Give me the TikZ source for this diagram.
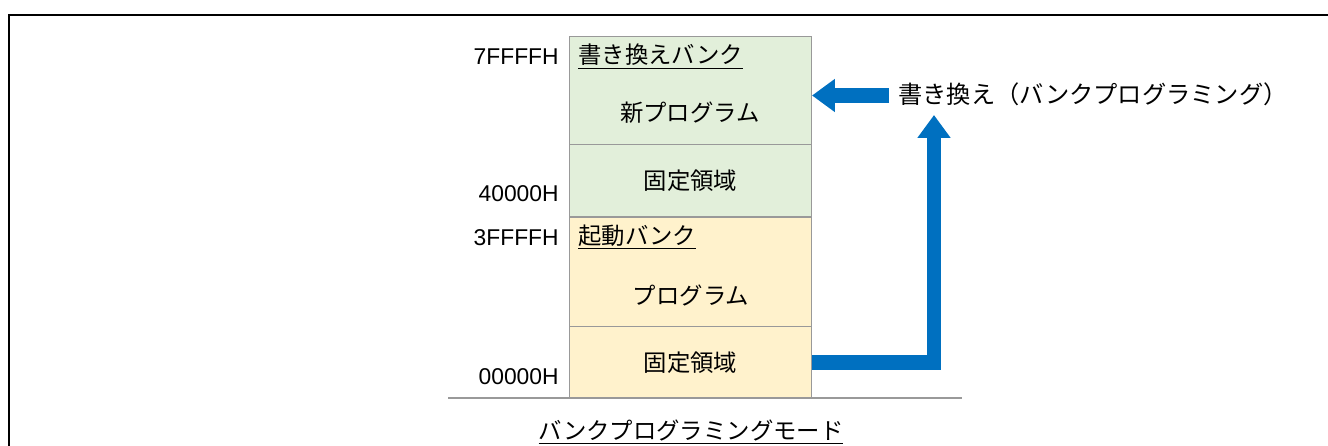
\documentclass[tikz,border=0pt]{standalone}
\usepackage{fontspec}
\setmainfont{Liberation Sans}
\newfontfamily\jp{Noto Sans CJK JP}
\usetikzlibrary{positioning}
\usetikzlibrary{arrows.meta}
\definecolor{bankgreen}{HTML}{E2EFDA}
\definecolor{bankyellow}{HTML}{FFF2CC}
\definecolor{bankline}{HTML}{999999}
\definecolor{arrowblue}{HTML}{0070C0}

\begin{document}
\begin{tikzpicture}[x=0.02cm, y=-0.02cm, line join = miter]
\tikzstyle{area}=[draw=bankline, line width=0.6pt, minimum width=4.84cm, inner sep=0, anchor=north west]
\tikzstyle{addr}=[anchor=east, inner sep=0, font=\fontsize{13}{15}\selectfont]
\tikzstyle{jtext}=[inner sep=0, font=\jp\fontsize{13.3}{15}\selectfont]
\tikzstyle{bigarrow}=[arrowblue, line width=8.5pt, -{Triangle[width=18pt,length=13pt]}]
\useasboundingbox (0,0) rectangle (1328,446);
\draw[line width=1.2pt] (9,446) -- (9,15) -- (1328,15);

% memory map
\node[area, fill=bankgreen, minimum height=2.16cm] (newprog) at (569,36) {};
\node[area, fill=bankgreen, minimum height=1.45cm] (fix1) at (569,144) {};
\node[area, fill=bankyellow, minimum height=2.18cm] (prog) at (569,216.7) {};
\node[area, fill=bankyellow, minimum height=1.44cm] (fix0) at (569,325.7) {};
\draw[bankline, line width=0.6pt] (448,398) -- (962,398);

\node[jtext, anchor=base west] (newbank) at (578,64) {\underline{書き換えバンク}};
\node[jtext] (newlbl) at (690,113) {新プログラム};
\node[jtext] (fix1lbl) at (fix1.center) {固定領域};
\node[jtext, anchor=base west] (bootbank) at (578,244) {\underline{起動バンク}};
\node[jtext] (proglbl) at (691,295) {プログラム};
\node[jtext] (fix0lbl) at (fix0.center) {固定領域};
\node[jtext, anchor=base] (caption) at (691,439) {\underline{バンクプログラミングモード}};

% addresses
\node[addr] (a7) at (559,56.5) {7FFFFH};
\node[addr] (a4) at (559,194) {40000H};
\node[addr] (a3) at (559,237.5) {3FFFFH};
\node[addr] (a0) at (559,376.5) {00000H};

% rewrite arrows
\node[jtext, anchor=west, font=\jp\fontsize{13.8}{15}\selectfont] (rwtext) at (898,94) {書き換え（バンクプログラミング）};
\coordinate (rwtail) at (889,95.5);
\coordinate (rwup) at (934,115);
\draw[bigarrow] (rwtail) -- (newprog.east |- rwtail);
\draw[bigarrow] (fix0.east) -- (fix0.east -| rwup) -- (rwup);
\end{tikzpicture}
\end{document}
